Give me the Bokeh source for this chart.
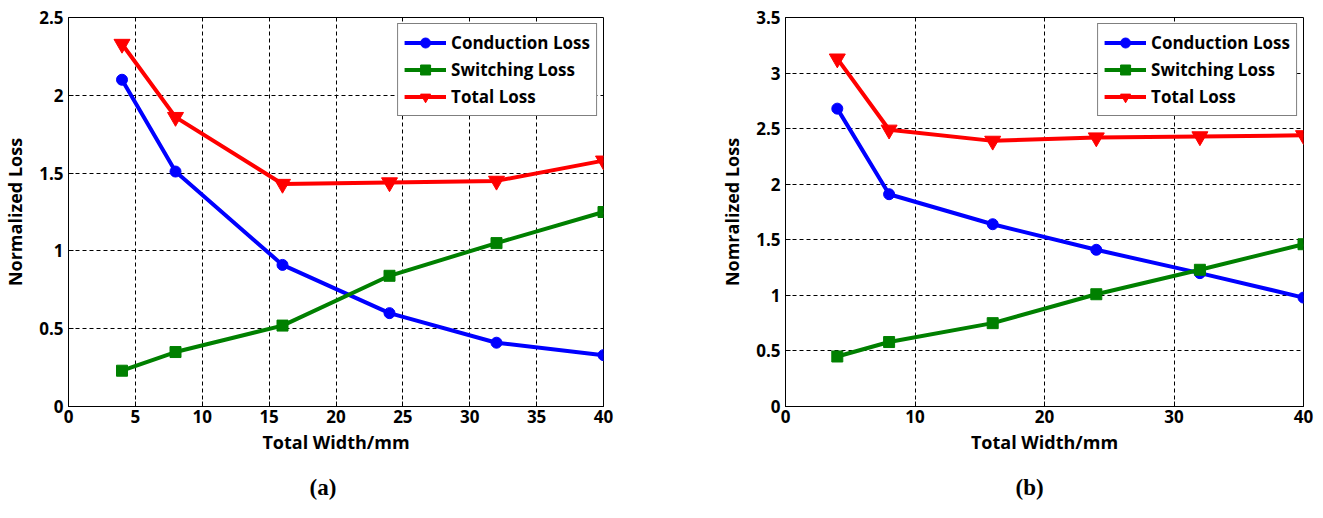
from bokeh.plotting import figure
from bokeh.layouts import row
from bokeh.models import FixedTicker, Range1d, Title
from bokeh.embed import file_html
from bokeh.resources import INLINE

# ---------------- data ----------------
width_mm = [4, 8, 16, 24, 32, 40]

cond_a = [2.10, 1.51, 0.91, 0.60, 0.41, 0.33]
sw_a = [0.23, 0.35, 0.52, 0.84, 1.05, 1.25]
total_a = [2.33, 1.86, 1.43, 1.44, 1.45, 1.58]

cond_b = [2.68, 1.91, 1.64, 1.41, 1.20, 0.98]
sw_b = [0.45, 0.58, 0.75, 1.01, 1.23, 1.46]
total_b = [3.13, 2.49, 2.39, 2.42, 2.43, 2.44]

x_ticks_a = [0, 5, 10, 15, 20, 25, 30, 35, 40]
y_ticks_a = [0, 0.5, 1, 1.5, 2, 2.5]
y_labels_a = ["0", "0.5", "1", "1.5", "2", "2.5"]

x_ticks_b = [0, 10, 20, 30, 40]
y_ticks_b = [0, 0.5, 1, 1.5, 2, 2.5, 3, 3.5]
y_labels_b = ["0", "0.5", "1", "1.5", "2", "2.5", "3", "3.5"]

series_names = ["Conduction Loss", "Switching Loss", "Total Loss"]
x_title = "Total Width/mm"
y_title_a = "Normalized Loss"
y_title_b = "Nomralized Loss"
captions = ["(a)", "(b)"]

FONT = "Open Sans"
BLUE, GREEN, RED = "#0000ff", "#008000", "#ff0000"


def make_fig(w, h, mbl, mbr, mbt, mbb, ymax, xt, yt, yl, ytitle, cond, sw, tot, cap, cap_off):
    p = figure(width=w, height=h, output_backend="svg", toolbar_location=None,
               x_range=Range1d(0, 40), y_range=Range1d(0, ymax),
               min_border_left=mbl, min_border_right=mbr,
               min_border_top=mbt, min_border_bottom=mbb)
    p.outline_line_color = "black"
    p.outline_line_width = 1
    p.background_fill_color = "white"
    p.border_fill_color = "white"

    p.xaxis.ticker = FixedTicker(ticks=xt)
    p.yaxis.ticker = FixedTicker(ticks=yt)
    p.yaxis.major_label_overrides = {v: s for v, s in zip(yt, yl)}
    for ax in (p.xaxis[0], p.yaxis[0]):
        ax.axis_line_color = "black"
        ax.major_tick_in = 5
        ax.major_tick_out = 0
        ax.minor_tick_line_color = None
        ax.major_tick_line_color = "black"
        ax.major_label_text_font = FONT
        ax.major_label_text_font_style = "bold"
        ax.major_label_text_font_size = "17px"
        ax.major_label_text_color = "black"
        ax.axis_label_text_font = FONT
        ax.axis_label_text_font_style = "bold"
        ax.axis_label_text_font_size = "18px"
        ax.axis_label_text_color = "black"
    p.xaxis.axis_label = x_title
    p.yaxis.axis_label = ytitle
    p.xaxis.major_label_standoff = 3
    p.xaxis.axis_label_standoff = 4
    p.yaxis.major_label_standoff = 5
    p.yaxis.axis_label_standoff = 9

    for g in (p.xgrid[0], p.ygrid[0]):
        g.grid_line_color = "black"
        g.grid_line_dash = "4 3"
        g.grid_line_width = 1

    lw = 4
    p.line(width_mm, cond, color=BLUE, line_width=lw, legend_label=series_names[0])
    p.scatter(width_mm, cond, marker="circle", size=11, color=BLUE, legend_label=series_names[0])
    p.line(width_mm, sw, color=GREEN, line_width=lw, legend_label=series_names[1])
    p.scatter(width_mm, sw, marker="square", size=11, color=GREEN, legend_label=series_names[1])
    p.line(width_mm, tot, color=RED, line_width=lw, legend_label=series_names[2])
    p.scatter(width_mm, tot, marker="inverted_triangle", size=16, color=RED, legend_label=series_names[2])

    lg = p.legend[0]
    lg.location = "top_right"
    lg.margin = 6
    lg.padding = 6
    lg.spacing = 2
    lg.label_height = 25
    lg.glyph_height = 25
    lg.glyph_width = 42
    lg.label_standoff = 5
    lg.border_line_color = "black"
    lg.border_line_width = 1
    lg.background_fill_color = "white"
    lg.background_fill_alpha = 1
    lg.label_text_font = FONT
    lg.label_text_font_style = "bold"
    lg.label_text_font_size = "17px"
    lg.label_text_color = "black"

    p.add_layout(Title(text=cap, align="left", offset=cap_off, standoff=33,
                       text_font="Liberation Serif", text_font_size="23px",
                       text_font_style="bold", text_color="black"), "below")
    return p


p1 = make_fig(680, 518, 67, 77, 17, 105, 2.5, x_ticks_a, y_ticks_a, y_labels_a, y_title_a,
              cond_a, sw_a, total_a, captions[0], 241)
p2 = make_fig(640, 518, 105, 17, 17, 112, 3.5, x_ticks_b, y_ticks_b, y_labels_b, y_title_b,
              cond_b, sw_b, total_b, captions[1], 230)

layout = row(p1, p2)
open("out.html", "w").write(file_html(layout, INLINE))
